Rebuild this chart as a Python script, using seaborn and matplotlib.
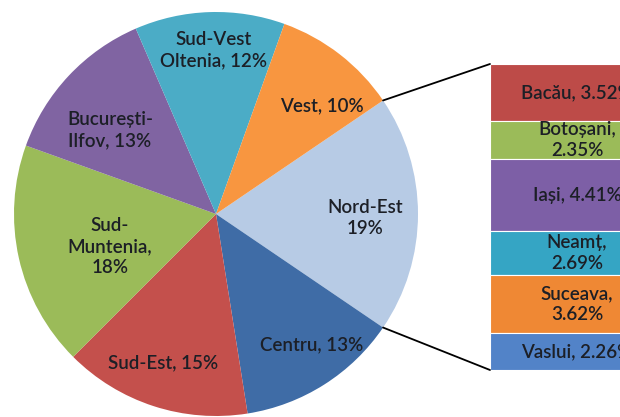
import numpy as np
import matplotlib.pyplot as plt
from matplotlib.patches import ConnectionPatch
import seaborn as sns

# Regions (clockwise, starting from the split-out slice)
regions = ['Nord-Est', 'Centru', 'Sud-Est', 'Sud-Muntenia',
           'București-Ilfov', 'Sud-Vest Oltenia', 'Vest']
region_share = [19, 13, 15, 18, 13, 12, 10]
region_labels = ['Nord-Est\n19%', 'Centru, 13%', 'Sud-Est, 15%',
                 'Sud-\nMuntenia,\n18%', 'București-\nIlfov, 13%',
                 'Sud-Vest\nOltenia, 12%', 'Vest, 10%']

# Counties of Nord-Est (top to bottom in the bar)
counties = ['Bacău', 'Botoșani', 'Iași', 'Neamț', 'Suceava', 'Vaslui']
county_share = [3.52, 2.35, 4.41, 2.69, 3.62, 2.26]
county_labels = ['Bacău, 3.52%', 'Botoșani,\n2.35%', 'Iași, 4.41%',
                 'Neamț,\n2.69%', 'Suceava,\n3.62%', 'Vaslui, 2.26%']

pie_colors = ['#b7cbe5', '#3f6ca6', '#c4504c', '#9bbb59',
              '#8064a2', '#4bacc6', '#f89640']
bar_colors = ['#bd4b48', '#9bbb59', '#7d5fa6', '#35a5c4', '#ef8834', '#5283c8']
# label placement inside each slice: fraction of radius, angle shift (deg)
label_dist = [0.74, 0.80, 0.78, 0.55, 0.67, 0.81, 0.75]
label_shift = [-1.5, 3.8, -1.7, 4.4, 4.8, -0.8, -6.4]

sns.set_theme(style='white')
plt.rcParams['font.family'] = ['Lato', 'DejaVu Sans']
txt = dict(ha='center', va='center', fontsize=13.5, color='#1c1f26',
           linespacing=1.3, fontweight='semibold')

fig = plt.figure(figsize=(6.2, 4.17), dpi=100)
ax = fig.add_axes([0, 0, 1, 1])

cx, cy, r = 216, 203, 202
start = 360 * region_share[0] / sum(region_share) / 2
wedges, _ = ax.pie(region_share, colors=pie_colors, startangle=start,
                   counterclock=False, center=(cx, cy), radius=r,
                   wedgeprops={'linewidth': 0})
ax.set_xlim(0, 620)
ax.set_ylim(0, 417)
ax.set_aspect('equal')
ax.axis('off')

for w, lab, d, s in zip(wedges, region_labels, label_dist, label_shift):
    mid = np.deg2rad((w.theta1 + w.theta2) / 2 + s)
    ax.text(cx + d * r * np.cos(mid), cy + d * r * np.sin(mid), lab, **txt)

# stacked bar for the Nord-Est breakdown (extends past the right edge)
bax = fig.add_axes([490 / 620, 47 / 417, 174 / 620, 306 / 417])
bottoms = np.concatenate([[0], np.cumsum(county_share)[:-1]])
bax.bar(0, county_share, bottom=bottoms, width=1, color=bar_colors,
        edgecolor='white', linewidth=0.8)
for b, v, lab in zip(bottoms, county_share, county_labels):
    bax.text(0, b + v / 2, lab, **txt)
bax.set_xlim(-0.5, 0.5)
bax.set_ylim(sum(county_share), 0)
bax.axis('off')

# connector lines from the split slice to the bar
w0 = wedges[0]
for ang, yb in [(w0.theta2, 0), (w0.theta1, sum(county_share))]:
    a = np.deg2rad(ang)
    con = ConnectionPatch(xyA=(cx + r * np.cos(a), cy + r * np.sin(a)),
                          coordsA=ax.transData, xyB=(-0.5, yb),
                          coordsB=bax.transData, color='black', lw=1.3)
    fig.add_artist(con)

fig.savefig('out.png', dpi=100)
